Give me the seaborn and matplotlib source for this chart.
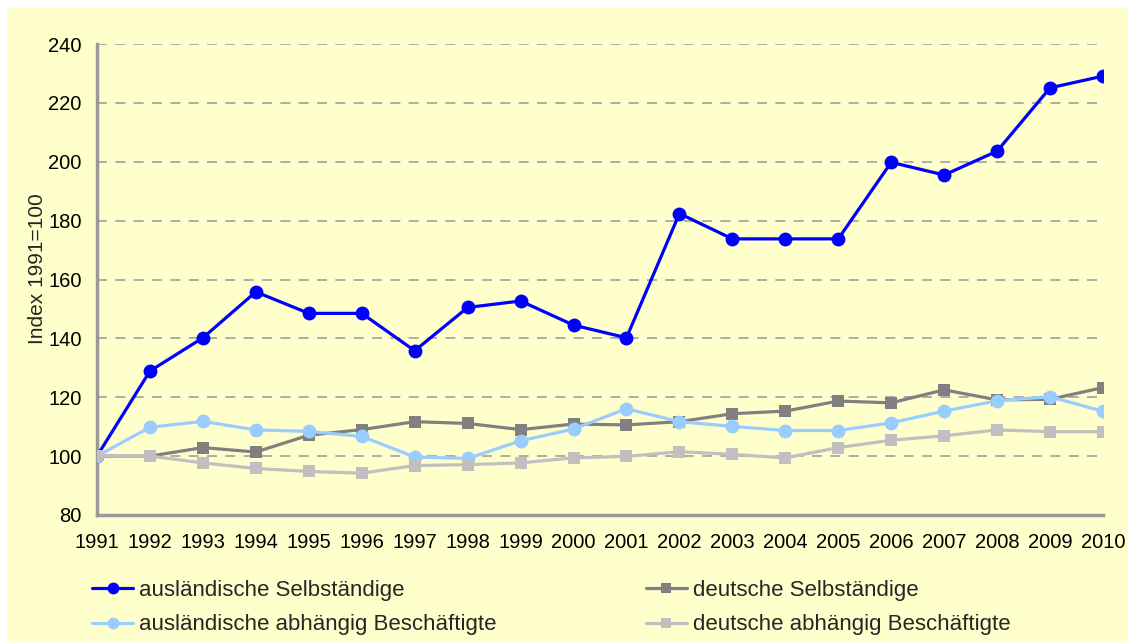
import pandas as pd
import matplotlib.pyplot as plt
import seaborn as sns
from matplotlib.patches import Rectangle

# data (index 1991 = 100)
years = list(range(1991, 2011))
auslaendische_selbstaendige = [100, 128.9, 140.2, 155.8, 148.5, 148.5, 135.8, 150.5, 152.7, 144.5,
                               140.2, 182.4, 173.8, 173.8, 173.8, 199.8, 195.5, 203.6, 225.1, 229.1]
deutsche_selbstaendige = [100, 100, 102.9, 101.4, 107.1, 109.0, 111.7, 111.1, 109.0, 110.9,
                          110.6, 111.7, 114.4, 115.3, 118.7, 118.1, 122.5, 119.1, 119.3, 123.3]
auslaendische_abhaengig = [100, 109.8, 111.8, 108.9, 108.4, 106.7, 99.7, 99.2, 105.2, 109.2,
                           116.1, 111.7, 110.1, 108.7, 108.7, 111.3, 115.3, 118.8, 120.2, 115.2]
deutsche_abhaengig = [100, 100, 97.7, 95.8, 94.8, 94.2, 96.8, 97.1, 97.7, 99.4,
                      99.9, 101.5, 100.6, 99.4, 102.9, 105.4, 106.9, 108.9, 108.3, 108.3]

series_names = ["ausländische Selbständige", "deutsche Selbständige",
                "ausländische abhängig Beschäftigte", "deutsche abhängig Beschäftigte"]
series_values = [auslaendische_selbstaendige, deutsche_selbstaendige,
                 auslaendische_abhaengig, deutsche_abhaengig]
y_ticks = [80, 100, 120, 140, 160, 180, 200, 220, 240]

colors = ["#0000FF", "#808080", "#99CCFF", "#C0C0C0"]
markers = ["o", "s", "o", "s"]
marker_sizes = [10, 8.5, 10, 8.5]

bg = "#FFFFCC"
axis_gray = "#999999"

sns.set_style("white")
plt.rcParams["font.family"] = ["Liberation Sans", "DejaVu Sans"]

fig = plt.figure(figsize=(11.28, 6.41), dpi=100, facecolor="white")
# yellow chart area, white margin at top and left
fig.patches.append(Rectangle((7 / 1128, 0), 1, 1 - 7 / 641, transform=fig.transFigure,
                             facecolor=bg, edgecolor="none", zorder=-10))
ax = fig.add_axes([97 / 1128, 126 / 641, 1006 / 1128, 471 / 641])
ax.set_facecolor(bg)

df = pd.DataFrame({"Jahr": years})
for name, vals in zip(series_names, series_values):
    df[name] = vals
long_df = df.melt(id_vars="Jahr", var_name="Reihe", value_name="Index")

handles = {}
for i, name in enumerate(series_names):
    sub = long_df[long_df["Reihe"] == name]
    sns.lineplot(data=sub, x="Jahr", y="Index", ax=ax, color=colors[i],
                 marker=markers[i], markersize=marker_sizes[i], markeredgewidth=0,
                 linewidth=2.3, zorder=3 + i, label=name, legend=False)
    handles[name] = ax.lines[-1]

ax.set_xlim(years[0], years[-1])
ax.set_ylim(80, 240)
ax.set_yticks(y_ticks)
ax.set_xticks(years)
ax.set_xticklabels([str(y) for y in years])
ax.tick_params(axis="both", labelsize=14.5, colors=axis_gray, labelcolor="black",
               length=6, width=2, direction="out")
ax.tick_params(axis="x", pad=7)
ax.tick_params(axis="y", pad=5)

for y in y_ticks[1:]:
    ax.axhline(y, color="#A0A0A0", linewidth=1.2, linestyle=(0, (6, 5)), zorder=1)

sns.despine(ax=ax)
for side in ["left", "bottom"]:
    ax.spines[side].set_color(axis_gray)
    ax.spines[side].set_linewidth(2.5)
    ax.spines[side].set_zorder(2)

ax.set_xlabel("")
ax.set_ylabel("Index 1991=100", fontsize=15)
ax.yaxis.set_label_coords(-0.05, 0.524)

order = [series_names[0], series_names[2], series_names[1], series_names[3]]
fig.legend([handles[n] for n in order], order, ncol=2, loc="upper left",
           bbox_to_anchor=(92 / 1128, 1 - 580 / 641), frameon=False, fontsize=16,
           borderpad=0, borderaxespad=0, handlelength=1.85, handletextpad=0.27,
           columnspacing=6.7, labelspacing=0.6, markerscale=0.85)

fig.savefig("out.png", dpi=100, facecolor="white")
